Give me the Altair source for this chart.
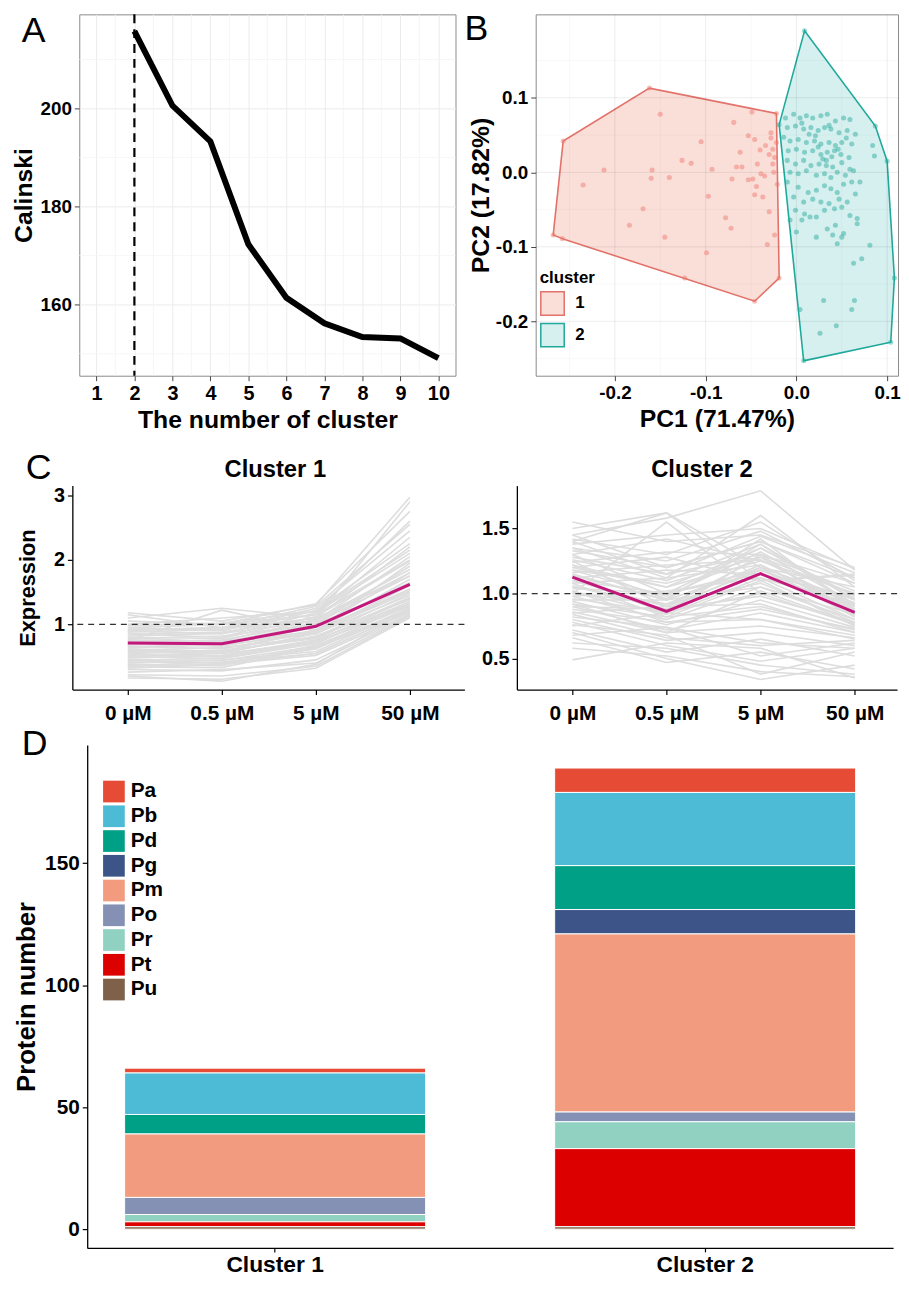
import altair as alt
import pandas as pd
import numpy as np

FONT = "Liberation Sans"

# ---------------- Panel A data ----------------
a_k = [2, 3, 4, 5, 6, 7, 8, 9, 10]
a_calinski = [215.8, 200.6, 193.3, 172.3, 161.4, 156.2, 153.4, 153.1, 149.1]
a_best_k = [2]
a_x_ticks = [1, 2, 3, 4, 5, 6, 7, 8, 9, 10]
a_x_minor = [1.5, 2.5, 3.5, 4.5, 5.5, 6.5, 7.5, 8.5, 9.5]
a_y_ticks = [160, 180, 200]
a_y_minor = [150, 170, 190, 210]

# ---------------- Panel B data ----------------
b_c1_x = [-0.162, -0.022, -0.019, -0.046, -0.123, -0.268, -0.257, -0.258,
          -0.150, -0.069, -0.049, -0.105, -0.126, -0.116, -0.212, -0.235, -0.159,
          -0.160, -0.140, -0.093, -0.097, -0.169, -0.184, -0.145, -0.099, -0.078,
          -0.072, -0.066, -0.071, -0.062, -0.053, -0.046, -0.043, -0.048, -0.053,
          -0.046, -0.037, -0.044, -0.030, -0.024, -0.032, -0.028, -0.026, -0.030,
          -0.025, -0.026, -0.021, -0.039, -0.060, -0.028, -0.034, -0.022, -0.024,
          -0.035, -0.040]
b_c1_y = [0.113, 0.079, -0.142, -0.173, -0.142, -0.084, 0.042, -0.089,
          0.078, 0.067, 0.081, 0.041, 0.016, 0.012, 0.003, -0.017, 0.003,
          -0.008, -0.007, 0.004, -0.032, -0.049, -0.071, -0.087, -0.108, -0.061,
          -0.075, 0.007, -0.009, 0.027, 0.049, 0.044, 0.011, -0.009, -0.010,
          -0.030, -0.033, -0.019, -0.053, -0.084, -0.097, 0.046, 0.031, 0.024,
          0.000, 0.011, -0.016, -0.002, 0.007, 0.053, 0.036, 0.040, 0.020,
          -0.005, 0.030]
b_c2_x = [0.009, 0.087, 0.100, 0.108, 0.104, 0.008, -0.019,
          -0.012, -0.003, 0.004, 0.011, 0.018, 0.027, 0.034, 0.043, 0.052, 0.059,
          -0.010, -0.001, 0.008, 0.016, 0.024, 0.031, 0.038, 0.047, 0.056, 0.065,
          -0.014, -0.007, 0.002, 0.011, 0.020, 0.027, 0.036, 0.043, 0.050, 0.061,
          -0.009, 0.000, 0.009, 0.018, 0.027, 0.034, 0.042, 0.049, 0.058, 0.084,
          -0.010, -0.001, 0.008, 0.016, 0.025, 0.033, 0.040, 0.050, 0.059, 0.086,
          -0.007, 0.002, 0.011, 0.022, 0.031, 0.038, 0.045, 0.054, 0.063, 0.070,
          -0.010, 0.002, 0.013, 0.022, 0.031, 0.038, 0.045, 0.052, 0.061,
          -0.003, 0.008, 0.018, 0.027, 0.036, 0.047, 0.056, 0.065,
          -0.001, 0.009, 0.022, 0.031, 0.042, 0.050, 0.059, 0.067,
          -0.007, 0.006, 0.015, 0.034, 0.043, 0.052, 0.067,
          0.000, 0.022, 0.040, 0.045, 0.050, 0.081, 0.072, 0.063,
          0.030, 0.064, 0.061, 0.044, 0.026, 0.004,
          0.006, 0.021, 0.036, 0.046, 0.029, 0.014, 0.039, 0.055, 0.024, 0.033]
b_c2_y = [0.190, 0.062, 0.015, -0.142, -0.228, -0.253, 0.064,
          0.073, 0.078, 0.073, 0.076, 0.073, 0.076, 0.078, 0.069, 0.073, 0.071,
          0.060, 0.062, 0.058, 0.060, 0.056, 0.060, 0.058, 0.053, 0.056, 0.051,
          0.047, 0.042, 0.044, 0.040, 0.042, 0.038, 0.040, 0.036, 0.040, 0.038,
          0.029, 0.031, 0.027, 0.029, 0.024, 0.027, 0.029, 0.024, 0.020, 0.036,
          0.016, 0.011, 0.016, 0.009, 0.011, 0.016, 0.007, 0.013, 0.004, 0.022,
          0.000, -0.002, 0.002, -0.004, -0.002, -0.007, 0.000, -0.004, 0.002, -0.013,
          -0.013, -0.020, -0.027, -0.024, -0.018, -0.022, -0.027, -0.016, -0.013,
          -0.033, -0.040, -0.036, -0.040, -0.042, -0.036, -0.040, -0.029,
          -0.051, -0.056, -0.060, -0.051, -0.049, -0.047, -0.058, -0.062,
          -0.064, -0.064, -0.060, -0.076, -0.071, -0.082, -0.069,
          -0.080, -0.087, -0.084, -0.096, -0.087, -0.098, -0.116, -0.122,
          -0.172, -0.172, -0.184, -0.206, -0.216, -0.184,
          0.066, 0.049, 0.063, 0.031, 0.018, 0.051, 0.021, 0.046, 0.034, 0.009]
b_ticks = [-0.2, -0.1, 0.0, 0.1]
b_x_minor = [-0.25, -0.15, -0.05, 0.05]
b_y_minor = [-0.25, -0.15, -0.05, 0.05, 0.15]
b_clusters = ["1", "2"]

# ---------------- Panel C data ----------------
dose_labels = ["0 µM", "0.5 µM", "5 µM", "50 µM"]
c_titles = ["Cluster 1", "Cluster 2"]
c1_mean = [0.71, 0.70, 0.97, 1.62]
c2_mean = [1.127, 0.863, 1.153, 0.856]
c1_profiles = [
    [1.18, 1.05, 1.30, 2.97], [1.10, 1.25, 1.10, 2.90], [1.05, 1.00, 1.32, 2.75],
    [0.98, 1.02, 1.20, 2.60], [0.95, 0.90, 1.25, 2.45], [0.92, 0.95, 1.15, 2.35],
    [0.90, 0.85, 1.22, 2.25], [0.88, 0.92, 1.10, 2.20], [0.85, 0.80, 1.18, 2.10],
    [0.82, 0.86, 1.05, 2.05], [0.80, 0.78, 1.12, 1.98], [0.78, 0.82, 1.00, 1.90],
    [0.76, 0.74, 1.08, 1.85], [0.74, 0.70, 0.95, 1.80], [0.72, 0.76, 1.02, 1.75],
    [0.70, 0.66, 0.90, 1.70], [0.68, 0.72, 0.98, 1.65], [0.66, 0.62, 0.88, 1.60],
    [0.64, 0.68, 0.85, 1.55], [0.62, 0.58, 0.92, 1.52], [0.60, 0.64, 0.80, 1.48],
    [0.58, 0.55, 0.86, 1.45], [0.56, 0.60, 0.78, 1.42], [0.54, 0.50, 0.74, 1.40],
    [0.52, 0.56, 0.82, 1.38], [0.50, 0.47, 0.70, 1.35], [0.48, 0.52, 0.76, 1.32],
    [0.46, 0.44, 0.66, 1.30], [0.44, 0.48, 0.72, 1.28], [0.42, 0.40, 0.62, 1.26],
    [0.40, 0.45, 0.58, 1.24], [0.38, 0.36, 0.68, 1.22], [0.36, 0.42, 0.55, 1.20],
    [0.34, 0.33, 0.64, 1.18], [0.32, 0.38, 0.52, 1.16], [0.30, 0.28, 0.45, 1.15],
    [0.26, 0.30, 0.40, 1.13], [0.22, 0.20, 0.35, 1.12], [0.17, 0.15, 0.32, 1.10],
    [0.20, 0.12, 0.38, 1.25], [0.75, 1.22, 0.90, 1.95], [1.15, 0.95, 1.28, 2.55],
    [0.90, 0.95, 1.05, 1.80], [0.70, 0.75, 0.88, 1.50], [0.60, 0.58, 0.80, 1.40],
    [0.80, 0.72, 1.00, 1.62], [0.50, 0.55, 0.72, 1.30], [0.95, 1.00, 1.15, 2.00],
    [0.65, 0.70, 0.90, 1.55], [0.45, 0.40, 0.65, 1.22], [0.85, 0.88, 1.10, 1.75],
    [0.55, 0.50, 0.75, 1.35], [1.00, 1.10, 1.20, 2.15], [0.35, 0.38, 0.55, 1.20],
]
c2_profiles = [
    [1.55, 1.40, 1.45, 1.20], [1.50, 1.62, 1.10, 1.15], [1.45, 1.58, 1.79, 1.18],
    [1.42, 1.30, 1.55, 1.10], [1.40, 1.62, 1.20, 1.05], [1.38, 1.45, 1.50, 1.19],
    [1.35, 1.25, 1.48, 1.12], [1.33, 1.20, 1.40, 1.08], [1.30, 1.42, 1.25, 1.00],
    [1.28, 1.15, 1.44, 1.16], [1.26, 1.10, 1.38, 0.95], [1.24, 1.32, 1.30, 1.02],
    [1.22, 1.05, 1.35, 0.98], [1.20, 1.28, 1.10, 1.14], [1.18, 0.98, 1.32, 0.92],
    [1.16, 1.22, 1.26, 0.90], [1.14, 0.95, 1.42, 0.88], [1.12, 1.18, 1.15, 0.97],
    [1.10, 0.90, 1.28, 0.85], [1.08, 1.12, 1.22, 0.86], [1.06, 0.88, 1.20, 0.82],
    [1.04, 1.00, 1.18, 0.93], [1.02, 0.84, 1.12, 0.80], [1.00, 0.92, 1.08, 0.78],
    [0.98, 0.80, 1.05, 0.84], [0.96, 0.86, 1.00, 0.76], [0.94, 0.76, 0.95, 0.74],
    [0.92, 0.82, 0.90, 0.72], [0.90, 0.72, 0.85, 0.70], [0.88, 0.78, 0.80, 0.68],
    [0.86, 0.70, 0.75, 0.66], [0.84, 0.66, 0.60, 0.64], [0.82, 0.74, 0.52, 0.62],
    [0.80, 0.64, 0.70, 0.60], [0.78, 0.60, 0.48, 0.58], [0.76, 0.68, 0.38, 0.55],
    [0.72, 0.55, 0.65, 0.52], [0.70, 0.50, 0.34, 0.45], [0.66, 0.47, 0.55, 0.42],
    [0.62, 0.58, 0.45, 0.38], [0.58, 0.52, 0.40, 0.36], [0.49, 0.62, 0.58, 0.35],
    [1.00, 1.55, 1.00, 1.00], [1.35, 1.12, 1.60, 1.05],
    [1.20, 1.05, 1.25, 1.00], [1.15, 0.95, 1.20, 0.95], [1.10, 1.00, 1.15, 0.90],
    [1.05, 0.92, 1.22, 0.88], [0.98, 1.02, 1.12, 0.92], [1.12, 0.85, 1.30, 0.83],
    [1.25, 0.90, 1.18, 0.87], [0.95, 0.95, 1.05, 0.80], [1.08, 0.82, 1.10, 0.75],
    [0.90, 0.88, 0.98, 0.78], [1.30, 1.00, 1.35, 0.96], [1.18, 1.08, 1.28, 0.99],
    [0.85, 0.90, 0.92, 0.70], [1.02, 0.78, 0.88, 0.73], [1.40, 1.15, 1.30, 1.08],
    [0.75, 0.85, 0.80, 0.65], [1.22, 0.96, 1.38, 0.91], [0.92, 0.70, 1.02, 0.77],
    [1.45, 1.20, 1.40, 1.12], [0.68, 0.74, 0.62, 0.58],
]

# ---------------- Panel D data ----------------
d_proteins = ["Pa", "Pb", "Pd", "Pg", "Pm", "Po", "Pr", "Pt", "Pu"]
d_colors = ["#E64B35", "#4DBBD5", "#00A087", "#3C5488", "#F39B7F",
            "#8491B4", "#91D1C2", "#DC0000", "#7E6148"]
d_groups = ["Cluster 1", "Cluster 2"]
d_cluster1 = [2, 17, 8, 0, 26, 7, 3, 2, 1]
d_cluster2 = [10, 30, 18, 10, 73, 4, 11, 32, 1]


def label_text(t, dx, dy, size=36, weight="normal", align="left"):
    # dy is the alphabetic baseline of the text, relative to the plot area
    return alt.Chart(pd.DataFrame({"t": [t]})).mark_text(
        font=FONT, fontSize=size, fontWeight=weight, align=align,
        baseline="alphabetic", color="black").encode(
        text="t:N", x=alt.value(dx), y=alt.value(dy))


def spacer(w):
    return alt.Chart(pd.DataFrame({"s": [0]})).mark_rule(opacity=0).encode(
        x=alt.value(0), x2=alt.value(w), y=alt.value(0)).properties(width=w, height=1)


IND = dict(color="independent", fill="independent", stroke="independent")

# ================= Panel A =================
sxA = alt.Scale(domain=[0.55, 10.45], nice=False, zero=False)
syA = alt.Scale(domain=[145.5, 219.2], nice=False, zero=False)
axAx = alt.Axis(values=a_x_ticks, title="The number of cluster", grid=True,
                gridColor="#EBEBEB", domain=False, tickColor="#444444", tickSize=5,
                labelFontSize=20, labelPadding=3, titleFontSize=25, titlePadding=4)
axAy = alt.Axis(values=a_y_ticks, title="Calinski", grid=True, gridColor="#EBEBEB",
                domain=False, tickColor="#444444", tickSize=5, labelFontSize=19,
                labelPadding=3, titleFontSize=25, titlePadding=4)
XA = lambda f: alt.X(f, scale=sxA, axis=axAx)
YA = lambda f: alt.Y(f, scale=syA, axis=axAy)
dfA = pd.DataFrame({"k": a_k, "ch": a_calinski})
A = alt.layer(
    alt.Chart(pd.DataFrame({"v": a_x_minor})).mark_rule(color="#F4F4F4", strokeWidth=0.8)
    .encode(x=XA("v:Q")),
    alt.Chart(pd.DataFrame({"v": a_y_minor})).mark_rule(color="#F4F4F4", strokeWidth=0.8)
    .encode(y=YA("v:Q")),
    alt.Chart(pd.DataFrame({"k": a_best_k})).mark_rule(color="black", strokeWidth=2.2, strokeDash=[9, 6])
    .encode(x=XA("k:Q")),
    alt.Chart(dfA).mark_line(color="black", strokeWidth=6).encode(x=XA("k:Q"), y=YA("ch:Q")),
    label_text("A", -58, 28),
).properties(width=380, height=365, view=alt.ViewBackground(stroke="#8a8a8a", strokeWidth=1))

# ================= Panel B =================
dfB = pd.concat([
    pd.DataFrame({"x": b_c1_x, "y": b_c1_y, "cluster": "1"}),
    pd.DataFrame({"x": b_c2_x, "y": b_c2_y, "cluster": "2"}),
], ignore_index=True)


def hull_band(xs, ys, name):
    pts = sorted(set(zip(xs, ys)))

    def cross(o, a, b):
        return (a[0] - o[0]) * (b[1] - o[1]) - (a[1] - o[1]) * (b[0] - o[0])
    lower, upper = [], []
    for p in pts:
        while len(lower) >= 2 and cross(lower[-2], lower[-1], p) <= 0:
            lower.pop()
        lower.append(p)
    for p in reversed(pts):
        while len(upper) >= 2 and cross(upper[-2], upper[-1], p) <= 0:
            upper.pop()
        upper.append(p)
    upper = upper[::-1]
    gx = sorted(set([p[0] for p in lower] + [p[0] for p in upper]))
    yu = np.interp(gx, [p[0] for p in upper], [p[1] for p in upper])
    yl = np.interp(gx, [p[0] for p in lower], [p[1] for p in lower])
    return pd.DataFrame({"x": gx, "yu": yu, "yl": yl, "cluster": name})


dfH = pd.concat([hull_band(b_c1_x, b_c1_y, "1"), hull_band(b_c2_x, b_c2_y, "2")],
                ignore_index=True)
sxB = alt.Scale(domain=[-0.2873, 0.112], nice=False, zero=False)
syB = alt.Scale(domain=[-0.273, 0.212], nice=False, zero=False)
minus_fix = "replace(format(datum.value, '.1f'), '\u2212', '-')"
axBx = alt.Axis(values=b_ticks, labelExpr=minus_fix, title="PC1 (71.47%)", grid=False,
                domain=False, tickColor="#444444", tickSize=5,
                labelFontSize=19, labelPadding=3, titleFontSize=25, titlePadding=4)
axBy = alt.Axis(values=b_ticks, labelExpr=minus_fix, title="PC2 (17.82%)", grid=False,
                domain=False, tickColor="#444444", tickSize=5,
                labelFontSize=19, labelPadding=3, titleFontSize=25, titlePadding=2)
XB = lambda f: alt.X(f, scale=sxB, axis=axBx)
YB = lambda f: alt.Y(f, scale=syB, axis=axBy)
leg_kw = dict(title="cluster", orient="none", legendX=4, legendY=258, symbolType="square",
              symbolSize=560, symbolStrokeWidth=1.5, titleFontSize=17, labelFontSize=17,
              titleFontWeight="bold", labelFontWeight="bold", titleColor="black",
              labelColor="black", padding=0, rowPadding=2, labelOffset=10, titlePadding=4)
B = alt.layer(
    alt.Chart(dfH).mark_area(opacity=1, strokeWidth=1.6).encode(
        x=XB("x:Q"), y=YB("yu:Q"), y2="yl:Q",
        fill=alt.Fill("cluster:N", scale=alt.Scale(domain=b_clusters, range=["#FADED8", "#D6EFEF"]),
                      legend=alt.Legend(**leg_kw)),
        stroke=alt.Stroke("cluster:N", scale=alt.Scale(domain=b_clusters, range=["#E2726A", "#1FA99B"]),
                          legend=alt.Legend(**leg_kw)),
        detail="cluster:N"),
    alt.Chart(pd.DataFrame({"v": b_ticks})).mark_rule(color="black", opacity=0.08, strokeWidth=1)
    .encode(x=XB("v:Q")),
    alt.Chart(pd.DataFrame({"v": b_ticks})).mark_rule(color="black", opacity=0.08, strokeWidth=1)
    .encode(y=YB("v:Q")),
    alt.Chart(pd.DataFrame({"v": b_x_minor})).mark_rule(color="black", opacity=0.04, strokeWidth=0.8)
    .encode(x=XB("v:Q")),
    alt.Chart(pd.DataFrame({"v": b_y_minor})).mark_rule(color="black", opacity=0.04, strokeWidth=0.8)
    .encode(y=YB("v:Q")),
    alt.Chart(dfB).mark_circle(size=26, opacity=0.45).encode(
        x=XB("x:Q"), y=YB("y:Q"),
        color=alt.Color("cluster:N", scale=alt.Scale(domain=b_clusters, range=["#EE7469", "#20A898"]),
                        legend=None)),
    label_text("B", -72, 26),
).properties(width=366, height=365, view=alt.ViewBackground(stroke="#8a8a8a", strokeWidth=1)
             ).resolve_scale(**IND)

# ================= Panel C =================
dose_expr = "[" + ",".join("'%s'" % d for d in dose_labels) + "][datum.value - 1]"


def c_panel(profiles, mean, ydom, yvals, yfmt, width, xdom, title, title_x, ytitle, extra=None):
    rows = []
    for i, p in enumerate(profiles):
        for j, v in enumerate(p):
            rows.append({"id": i, "dose": j + 1, "expr": v})
    df = pd.DataFrame(rows)
    dfm = pd.DataFrame({"dose": [1, 2, 3, 4], "expr": mean})
    sx = alt.Scale(domain=xdom, nice=False, zero=False)
    sy = alt.Scale(domain=ydom, nice=False, zero=False)
    axx = alt.Axis(values=[1, 2, 3, 4], labelExpr=dose_expr, title=None, grid=False,
                   domainColor="black", domainWidth=1.3, tickColor="black", tickWidth=1.2,
                   tickSize=5, labelFontSize=21, labelPadding=8)
    ykw = dict(values=yvals, format=yfmt, grid=False, domainColor="black", domainWidth=1.3,
               tickColor="black", tickWidth=1.2, tickSize=5, labelFontSize=20, labelPadding=3)
    if ytitle:
        ykw.update(title=ytitle, titleFontSize=22, titlePadding=14)
    else:
        ykw.update(title=None)
    axy = alt.Axis(**ykw)
    layers = [
        alt.Chart(df).mark_line(color="#DDDDDD", strokeWidth=1.6).encode(
            x=alt.X("dose:Q", scale=sx, axis=axx), y=alt.Y("expr:Q", scale=sy, axis=axy),
            detail="id:N"),
        alt.Chart(pd.DataFrame({"expr": [1]})).mark_rule(color="#333333", strokeDash=[6, 5], strokeWidth=1.3)
        .encode(y=alt.Y("expr:Q", scale=sy, axis=axy)),
        alt.Chart(dfm).mark_line(color="#C2187C", strokeWidth=3).encode(
            x=alt.X("dose:Q", scale=sx, axis=axx), y=alt.Y("expr:Q", scale=sy, axis=axy)),
        label_text(title, title_x, -9, size=24, weight="bold", align="center"),
    ]
    if extra is not None:
        layers.append(extra)
    return alt.layer(*layers).properties(width=width, height=206)


C1 = c_panel(c1_profiles, c1_mean, [-0.01, 3.15], [1, 2, 3], "d", 396, [0.41, 4.58],
             c_titles[0], 205, "Expression", extra=label_text("C", -47, -7))
C2 = c_panel(c2_profiles, c2_mean, [0.262, 1.83], [0.5, 1.0, 1.5], ".1f", 384, [0.41, 4.45],
             c_titles[1], 187, None)

# ================= Panel D =================
rows = []
for grp, counts in zip(d_groups, [d_cluster1, d_cluster2]):
    for k, (p, c) in enumerate(zip(d_proteins, counts)):
        if c > 0:
            rows.append({"cluster": grp, "protein": p, "n": c, "ord": len(d_proteins) - 1 - k})
dfD = pd.DataFrame(rows)
D = alt.layer(
    alt.Chart(dfD).mark_bar(stroke="white", strokeWidth=1).encode(
        x=alt.X("cluster:N", sort=d_groups, scale=alt.Scale(paddingInner=0.3, paddingOuter=0.087),
                axis=alt.Axis(title=None, labelAngle=0, domainColor="black", domainWidth=1.3,
                              tickColor="black", tickWidth=1.2, tickSize=4, labelFontSize=23,
                              labelPadding=2)),
        y=alt.Y("n:Q", stack="zero", scale=alt.Scale(domain=[-7.7, 198.45], nice=False, zero=False),
                axis=alt.Axis(values=[0, 50, 100, 150], title="Protein number", grid=False,
                              domainColor="black", domainWidth=1.3, tickColor="black",
                              tickWidth=1.2, tickSize=5, labelFontSize=21, labelPadding=3,
                              titleFontSize=26, titlePadding=5)),
        color=alt.Color("protein:N", scale=alt.Scale(domain=d_proteins, range=d_colors),
                        legend=alt.Legend(title=None, orient="none", legendX=16, legendY=36,
                                          symbolType="square", symbolSize=480,
                                          symbolStrokeWidth=0, labelFontSize=21,
                                          labelFontWeight="bold", labelColor="black",
                                          rowPadding=3, labelOffset=6, padding=0)),
        order=alt.Order("ord:Q", sort="ascending")),
    label_text("D", -66, 10),
).properties(width=814, height=508)

row1 = alt.hconcat(spacer(2), A, spacer(7), B, spacing=0).resolve_scale(**IND).resolve_legend(**IND)
row2 = alt.hconcat(spacer(8), C1, spacer(16), C2, spacing=0).resolve_scale(**IND).resolve_legend(**IND)
row3 = alt.hconcat(spacer(5), D, spacing=0).resolve_scale(**IND).resolve_legend(**IND)
top = alt.vconcat(row1, row2, spacing=17).resolve_scale(**IND).resolve_legend(**IND)
chart = alt.vconcat(top, row3, spacing=3).resolve_scale(**IND).resolve_legend(**IND).properties(
    padding={"left": 0, "top": -4, "right": 0, "bottom": 0})
chart = chart.configure(font=FONT).configure_view(stroke=None).configure_axis(
    labelFont=FONT, titleFont=FONT, labelFontWeight="bold", titleFontWeight="bold",
    labelColor="black", titleColor="black").configure_legend(
    labelFont=FONT, titleFont=FONT).configure_title(font=FONT)

chart.save("out.html", embed_options={"renderer": "svg", "actions": False})
